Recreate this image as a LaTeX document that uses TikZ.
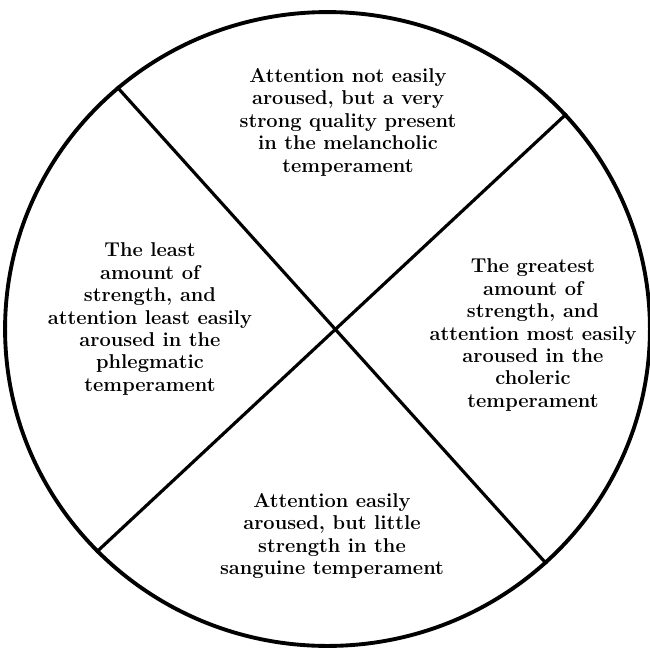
\documentclass[tikz,border=0pt]{standalone}
\usepackage{xcolor}
\usepackage{tikz}
\usetikzlibrary{shapes.geometric}

\begin{document}
\begin{tikzpicture}[x=0.02cm, y=-0.02cm,
    quadtext/.style={font=\bfseries\fontsize{11.4}{12.8}\selectfont, align=center, inner sep=0pt},
    divider/.style={line width=1.8pt}]
  \useasboundingbox (0,0) rectangle (650,650);

  % Outer circle
  \node[ellipse, draw, line width=2.2pt, inner sep=0pt, minimum width=12.9cm, minimum height=12.68cm] (rim) at (327.5,329) {};

  % Dividing lines
  \coordinate (nw) at (rim.131.8);
  \coordinate (ne) at (rim.42.1);
  \coordinate (sw) at (rim.224);
  \coordinate (se) at (rim.313.3);
  \draw[divider] (nw) -- (se);
  \draw[divider] (ne) -- (sw);

  % Quadrant texts
  \node[quadtext] (melancholic) at (348,122) {Attention not easily\\aroused, but a very\\strong quality present\\in the melancholic\\temperament};
  \node[quadtext] (phlegmatic) at (150,319) {The least\\amount of\\strength, and\\attention least easily\\aroused in the\\phlegmatic\\temperament};
  \node[quadtext] (choleric) at (533,335) {The greatest\\amount of\\strength, and\\attention most easily\\aroused in the\\choleric\\temperament};
  \node[quadtext] (sanguine) at (332,536) {Attention easily\\aroused, but little\\strength in the\\sanguine temperament};
\end{tikzpicture}
\end{document}
